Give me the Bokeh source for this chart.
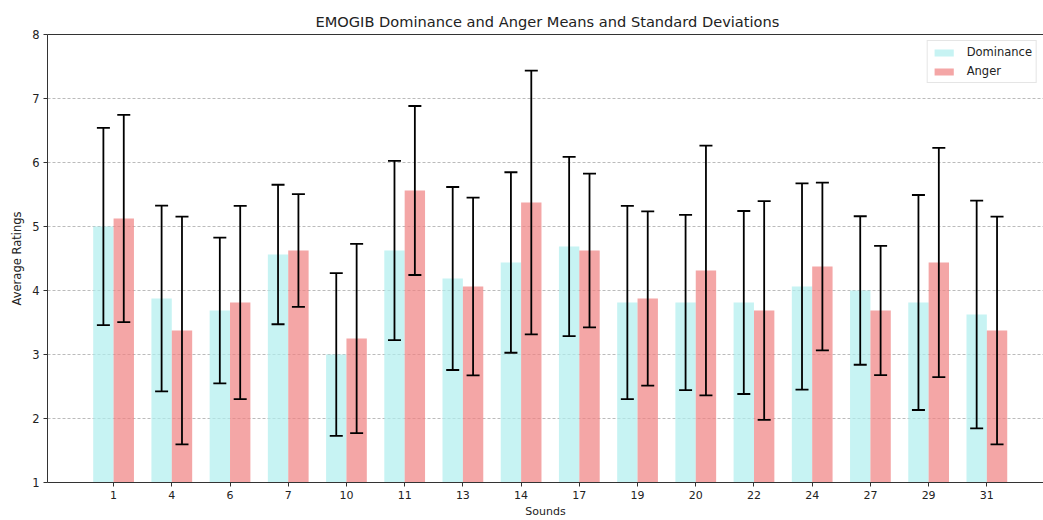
from bokeh.plotting import figure
from bokeh.models import (ColumnDataSource, Range1d, FixedTicker, Whisker, TeeHead,
                          LinearAxis)
from bokeh.transform import dodge
from bokeh.embed import file_html
from bokeh.resources import INLINE

# EMOGIB ratings per sound
sounds = ["1", "4", "6", "7", "10", "11", "13", "14", "17", "19", "20", "22", "24", "27", "29", "31"]
dominance_mean = [5.0, 3.875, 3.6875, 4.5625, 3.0, 4.625, 4.1875, 4.4375,
                  4.6875, 3.8125, 3.8125, 3.8125, 4.0625, 4.0, 3.8125, 3.625]
dominance_std = [1.54, 1.45, 1.14, 1.09, 1.27, 1.40, 1.43, 1.41,
                 1.40, 1.51, 1.37, 1.43, 1.61, 1.16, 1.68, 1.78]
anger_mean = [5.125, 3.375, 3.8125, 4.625, 3.25, 5.5625, 4.0625, 5.375,
              4.625, 3.875, 4.3125, 3.6875, 4.375, 3.6875, 4.4375, 3.375]
anger_std = [1.62, 1.78, 1.51, 0.88, 1.48, 1.32, 1.39, 2.06,
             1.20, 1.36, 1.95, 1.71, 1.31, 1.01, 1.79, 1.78]
y_ticks = [1, 2, 3, 4, 5, 6, 7, 8]

bar_w = 0.35
idx = list(range(len(sounds)))

src = ColumnDataSource(dict(
    idx=idx,
    dom=dominance_mean,
    ang=anger_mean,
    dom_x=[i - bar_w / 2 for i in idx],
    ang_x=[i + bar_w / 2 for i in idx],
    dom_lo=[m - s for m, s in zip(dominance_mean, dominance_std)],
    dom_hi=[m + s for m, s in zip(dominance_mean, dominance_std)],
    ang_lo=[m - s for m, s in zip(anger_mean, anger_std)],
    ang_hi=[m + s for m, s in zip(anger_mean, anger_std)],
))

FONT = "DejaVu Sans"
TXT = "#222222"
SPINE = "#333333"

p = figure(width=1043, height=520, output_backend="svg", toolbar_location=None,
           x_range=Range1d(-1.135, 15.973), y_range=Range1d(1, 8),
           min_border_left=47, min_border_right=0, min_border_top=34,
           min_border_bottom=37)

p.title.text = "EMOGIB Dominance and Anger Means and Standard Deviations"
p.title.align = "left"
p.title.offset = 268
p.title.text_font = FONT
p.title.text_font_size = "14.6px"
p.title.text_font_style = "normal"
p.title.text_color = TXT

p.vbar(x=dodge("idx", -bar_w / 2), top="dom", bottom=0, width=bar_w, source=src,
       fill_color="paleturquoise", fill_alpha=0.7, line_color=None,
       legend_label="Dominance")
p.vbar(x=dodge("idx", bar_w / 2), top="ang", bottom=0, width=bar_w, source=src,
       fill_color="lightcoral", fill_alpha=0.7, line_color=None,
       legend_label="Anger")

# standard-deviation error bars, drawn over the bars
for base, lo, hi in (("dom_x", "dom_lo", "dom_hi"), ("ang_x", "ang_lo", "ang_hi")):
    w = Whisker(source=src, base=base, lower=lo, upper=hi, dimension="height",
                line_color="black", line_width=1.8, level="overlay",
                upper_head=TeeHead(size=13, line_width=1.8, line_color="black"),
                lower_head=TeeHead(size=13, line_width=1.8, line_color="black"))
    p.add_layout(w)

# axes
p.xaxis.ticker = FixedTicker(ticks=idx)
p.xaxis.major_label_overrides = {i: s for i, s in zip(idx, sounds)}
p.yaxis.ticker = FixedTicker(ticks=y_ticks)
p.xaxis.axis_label = "Sounds"
p.yaxis.axis_label = "Average Ratings"
for ax in (p.xaxis, p.yaxis):
    ax.axis_label_text_font = FONT
    ax.axis_label_text_font_style = "normal"
    ax.axis_label_text_color = TXT
    ax.major_label_text_font = FONT
    ax.major_label_text_color = TXT
    ax.axis_line_color = SPINE
    ax.major_tick_line_color = SPINE
    ax.major_tick_in = 0
    ax.major_tick_out = 4
    ax.minor_tick_line_color = None
    ax.major_label_standoff = 4
p.xaxis.axis_label_text_font_size = "11px"
p.xaxis.major_label_text_font_size = "11px"
p.yaxis.axis_label_text_font_size = "11.5px"
p.yaxis.major_label_text_font_size = "11.5px"
p.xaxis.axis_label_standoff = 3
p.yaxis.axis_label_standoff = 5

# top spine only (right side runs past the page edge)
p.outline_line_color = None
top = LinearAxis(ticker=FixedTicker(ticks=[]), axis_line_color=SPINE,
                 major_tick_line_color=None, minor_tick_line_color=None,
                 major_label_text_font_size="0px")
p.add_layout(top, "above")

p.xgrid.grid_line_color = None
p.ygrid.grid_line_color = "#aaaaaa"
p.ygrid.grid_line_alpha = 0.8
p.ygrid.grid_line_dash = "3 2"
p.ygrid.grid_line_width = 1

# legend
lg = p.legend[0]
lg.location = "top_right"
lg.margin = 6
lg.padding = 4
lg.spacing = 5
lg.glyph_width = 24
lg.glyph_height = 9
lg.label_height = 14
lg.label_standoff = 11
lg.label_text_font = FONT
lg.label_text_font_size = "11.5px"
lg.label_text_color = TXT
lg.border_line_color = "#cccccc"
lg.border_line_width = 1
lg.background_fill_alpha = 0.8

open("out.html", "w").write(file_html(p, INLINE))
